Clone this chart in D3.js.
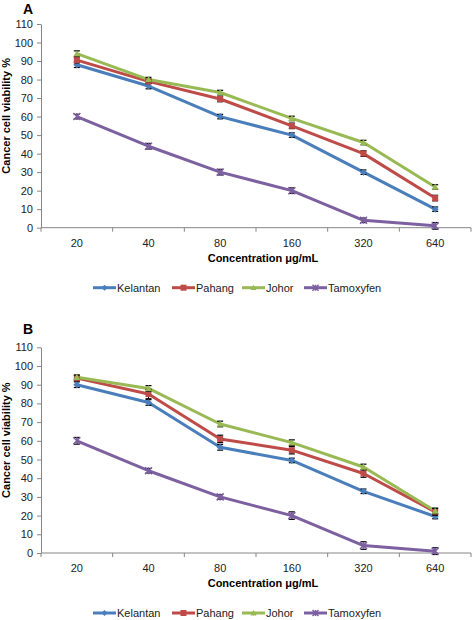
<!DOCTYPE html>
<html>
<head>
<meta charset="utf-8">
<script src="https://cdn.jsdelivr.net/npm/d3@7"></script>
<style>
  html, body { margin: 0; padding: 0; background: #fff; }
  svg { display: block; }
  text { font-family: "Liberation Sans", Arial, sans-serif; }
</style>
</head>
<body>
<svg id="chart" width="472" height="620"></svg>
<script>
// ---- Data ----
const categories = ["20", "40", "80", "160", "320", "640"];
const yTicks = [0, 10, 20, 30, 40, 50, 60, 70, 80, 90, 100, 110];
const seriesNames = ["Kelantan", "Pahang", "Johor", "Tamoxyfen"];
const seriesColors = ["#4A7EBB", "#BE4B48", "#98B954", "#7D60A0"];
const seriesMarkers = ["diamond", "square", "triangle", "x"];

// Panel A
const kelantanA = [88, 76.5, 60, 50, 30, 10];
const pahangA = [90.5, 79, 69.5, 55, 40, 16];
const johorA = [94, 80, 73, 59, 46, 22];
const tamoxyfenA = [60, 44, 30, 20, 4, 1];
const kelantanErrA = [1.5, 1.5, 1.2, 1.2, 1.2, 1.2];
const pahangErrA = [1.5, 1.2, 1.5, 1.5, 1.5, 1.5];
const johorErrA = [1.5, 1.2, 1.2, 1.2, 1.2, 1.2];
const tamoxyfenErrA = [1.2, 1.5, 1.5, 1.5, 1.2, 1.8];

// Panel B
const kelantanB = [90, 80.5, 56.5, 49.5, 33, 19.5];
const pahangB = [93.5, 85, 61, 55, 42.5, 22];
const johorB = [94, 88, 69, 59, 46, 22.5];
const tamoxyfenB = [60, 44, 30, 20, 4, 1];
const kelantanErrB = [1.5, 1.5, 1.5, 1.2, 1.2, 1.2];
const pahangErrB = [1.5, 2.5, 2, 2, 2, 1.8];
const johorErrB = [1.2, 1.5, 1.5, 1.5, 1.5, 1.5];
const tamoxyfenErrB = [1.8, 1.2, 1.2, 2, 2, 1.8];

const xTitle = "Concentration μg/mL";
const yTitle = "Cancer cell viability %";

// ---- Drawing ----
const svg = d3.select("#chart");

function markerPath(type, size) {
  const s = size;
  if (type === "diamond") return `M0,${-s}L${s},0L0,${s}L${-s},0Z`;
  if (type === "square") return `M${-s},${-s}H${s}V${s}H${-s}Z`;
  if (type === "triangle") return `M0,${-s}L${s},${s * 0.8}L${-s},${s * 0.8}Z`;
  return `M${-s},${-s}L${s},${s}M${-s},${s}L${s},${-s}M0,${-s}V${s}`;
}

function drawPanel(opts) {
  const { label, labelY, top, bottom, values, errors } = opts;
  const left = 41, right = 471;
  const g = svg.append("g");

  const x = d3.scaleBand().domain(categories).range([left, right]).padding(0);
  const y = d3.scaleLinear().domain([0, 110]).range([bottom, top]);

  // panel label
  g.append("text").attr("x", 28).attr("y", labelY)
    .attr("text-anchor", "middle").attr("font-size", 14).attr("font-weight", "bold")
    .text(label);

  // y axis
  const yAxis = d3.axisLeft(y).tickValues(yTicks).tickSize(4).tickSizeOuter(0).tickPadding(4);
  const ya = g.append("g").attr("transform", `translate(${left},0)`).call(yAxis);
  ya.select(".domain").attr("stroke", "#868686");
  ya.selectAll(".tick line").attr("stroke", "#868686");
  ya.selectAll(".tick text").attr("font-size", 11).attr("fill", "#222")
    .attr("font-family", "Liberation Sans, Arial, sans-serif");

  // x axis: labels at band centers, ticks at band boundaries
  const xa = g.append("g").attr("transform", `translate(0,${bottom})`);
  xa.append("line").attr("x1", left).attr("x2", right).attr("y1", 0).attr("y2", 0)
    .attr("stroke", "#868686");
  const boundaries = categories.map(c => x(c)).concat([x(categories[categories.length - 1]) + x.bandwidth()]);
  xa.selectAll("line.tk").data(boundaries).enter().append("line").attr("class", "tk")
    .attr("x1", d => d).attr("x2", d => d).attr("y1", 0).attr("y2", 4).attr("stroke", "#868686");
  xa.selectAll("text.lbl").data(categories).enter().append("text").attr("class", "lbl")
    .attr("x", d => x(d) + x.bandwidth() / 2).attr("y", 19)
    .attr("text-anchor", "middle").attr("font-size", 11).attr("fill", "#222").text(d => d);

  // axis titles
  g.append("text").attr("x", (left + right) / 2 + 7).attr("y", bottom + 34)
    .attr("text-anchor", "middle").attr("font-size", 11).attr("font-weight", "bold").text(xTitle);
  g.append("text")
    .attr("transform", `translate(10,${(top + bottom) / 2 - 10}) rotate(-90)`)
    .attr("text-anchor", "middle").attr("font-size", 11).attr("font-weight", "bold").text(yTitle);

  const cx = c => x(c) + x.bandwidth() / 2;
  const line = d3.line().x((d, i) => cx(categories[i])).y(d => y(d));

  values.forEach((vals, si) => {
    const col = seriesColors[si];
    g.append("path").datum(vals).attr("d", line).attr("fill", "none")
      .attr("stroke", col).attr("stroke-width", 3).attr("stroke-linejoin", "round");
  });
  values.forEach((vals, si) => {
    const col = seriesColors[si];
    const errs = errors[si];
    vals.forEach((v, i) => {
      const px = cx(categories[i]);
      const e = errs[i];
      g.append("line").attr("x1", px).attr("x2", px).attr("y1", y(v - e)).attr("y2", y(v + e))
        .attr("stroke", "#000").attr("stroke-width", 1);
      [v - e, v + e].forEach(ev => {
        g.append("line").attr("x1", px - 3).attr("x2", px + 3).attr("y1", y(ev)).attr("y2", y(ev))
          .attr("stroke", "#000").attr("stroke-width", 1.2);
      });
      const m = seriesMarkers[si];
      const p = g.append("path").attr("transform", `translate(${px},${y(v)})`)
        .attr("d", markerPath(m, m === "square" ? 3 : 3.5));
      if (m === "x") p.attr("fill", "none").attr("stroke", col).attr("stroke-width", 1.5);
      else p.attr("fill", col);
    });
  });

  // legend
  const legY = bottom + 60;
  const legItems = [{ x: 93 }, { x: 172 }, { x: 242 }, { x: 304 }];
  seriesNames.forEach((name, si) => {
    const lx = legItems[si].x;
    const col = seriesColors[si];
    g.append("line").attr("x1", lx).attr("x2", lx + 23).attr("y1", legY).attr("y2", legY)
      .attr("stroke", col).attr("stroke-width", 3);
    const m = seriesMarkers[si];
    const p = g.append("path").attr("transform", `translate(${lx + 11.5},${legY})`)
      .attr("d", markerPath(m, 3));
    if (m === "x") p.attr("fill", "none").attr("stroke", col).attr("stroke-width", 1.5);
    else p.attr("fill", col);
    g.append("text").attr("x", lx + 24).attr("y", legY + 4).attr("font-size", 11)
      .attr("fill", "#222").text(name);
  });
}

drawPanel({
  label: "A", labelY: 14, top: 24, bottom: 227.7,
  values: [kelantanA, pahangA, johorA, tamoxyfenA],
  errors: [kelantanErrA, pahangErrA, johorErrA, tamoxyfenErrA]
});
drawPanel({
  label: "B", labelY: 334, top: 347.3, bottom: 553,
  values: [kelantanB, pahangB, johorB, tamoxyfenB],
  errors: [kelantanErrB, pahangErrB, johorErrB, tamoxyfenErrB]
});
</script>
</body>
</html>
